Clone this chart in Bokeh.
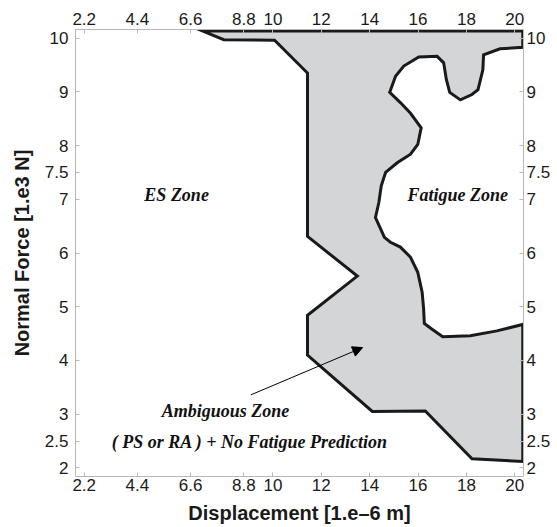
from bokeh.plotting import figure
from bokeh.models import (Range1d, LinearAxis, FixedTicker, CustomJSTickFormatter,
                          Label, Arrow, NormalHead)
from bokeh.embed import file_html
from bokeh.resources import INLINE

# ---- data ----
x_ticks = [2.2, 4.4, 6.6, 8.8, 10, 12, 14, 16, 18, 20]
y_ticks = [2, 2.5, 3, 4, 5, 6, 7, 7.5, 8, 9, 10]
x_label = "Displacement [1.e\u20136 m]"
y_label = "Normal Force [1.e3 N]"

zone_x = [7.10, 20.33, 20.33, 19.39, 18.71, 18.68, 18.48, 18.23, 17.75, 17.31,
          17.17, 17.06, 16.79, 16.03, 15.41, 15.07, 14.83, 15.27, 15.69, 16.13,
          15.99, 15.69, 15.14, 14.66, 14.48, 14.38, 14.24, 14.42, 14.61, 14.86,
          15.27, 15.69, 15.99, 16.17, 16.23, 16.26, 16.58, 17.02, 18.16, 19.26,
          20.33, 20.33, 18.23, 16.30, 14.11, 11.43, 11.43, 13.49, 11.43, 11.43,
          10.07, 7.97]
zone_y = [10.13, 10.13, 9.83, 9.80, 9.69, 9.41, 9.04, 8.95, 8.85, 8.99,
          9.23, 9.54, 9.66, 9.65, 9.48, 9.29, 8.99, 8.80, 8.60, 8.33,
          8.02, 7.84, 7.68, 7.50, 7.25, 6.94, 6.66, 6.48, 6.29, 6.20,
          6.11, 5.92, 5.64, 5.27, 4.97, 4.69, 4.58, 4.44, 4.46, 4.55,
          4.67, 2.12, 2.17, 3.06, 3.05, 4.10, 4.84, 5.57, 6.31, 9.35,
          9.96, 9.97]

zone_names = ["ES Zone", "Fatigue Zone", "Ambiguous Zone",
              "( PS or RA ) + No Fatigue Prediction"]
zone_label_x = [6.02, 17.64, 8.04, 9.05]
zone_label_y = [7.08, 7.08, 3.05, 2.49]

arrow_start = [9.09, 3.36]
arrow_end = [13.71, 4.24]

# ---- figure ----
p = figure(width=557, height=527,
           x_range=Range1d(1.84, 20.36), y_range=Range1d(1.84, 10.16),
           output_backend="svg", toolbar_location=None)
p.min_border_left = 75
p.min_border_right = 34
p.min_border_top = 29
p.min_border_bottom = 51
p.outline_line_color = None
p.xgrid.grid_line_color = None
p.ygrid.grid_line_color = None
p.background_fill_color = "white"
p.border_fill_color = "white"

p.add_layout(LinearAxis(), "above")
p.add_layout(LinearAxis(), "right")

fmt_code = "return String(Math.round(tick*100)/100);"

def style(ax, ticks, standoff):
    ax.ticker = FixedTicker(ticks=ticks, minor_ticks=[])
    ax.formatter = CustomJSTickFormatter(code=fmt_code)
    ax.major_tick_in = 4
    ax.major_tick_out = 0
    ax.minor_tick_line_color = None
    ax.axis_line_color = "#b8b8b8"
    ax.major_tick_line_color = "#b8b8b8"
    ax.major_label_text_font = "Liberation Sans"
    ax.major_label_text_font_size = "17px"
    ax.major_label_text_color = "#1a1a1a"
    ax.major_label_standoff = standoff

style(p.below[0], x_ticks, 2)
style(p.above[0], x_ticks, 5)
style(p.left[0], y_ticks, 7)
style(p.right[0], y_ticks, 3)

for ax, lab, so in ((p.below[0], x_label, 8), (p.left[0], y_label, 9)):
    ax.axis_label = lab
    ax.axis_label_text_font = "Liberation Sans"
    ax.axis_label_text_font_style = "bold"
    ax.axis_label_text_font_size = "20px"
    ax.axis_label_text_color = "#1a1a1a"
    ax.axis_label_standoff = so

p.patch(zone_x, zone_y, fill_color="#d4d5d7", line_color="#1a1a1a",
        line_width=3, line_join="miter")

p.add_layout(Arrow(end=NormalHead(size=10, fill_color="black", line_color="black",
                                  line_width=1),
                   x_start=arrow_start[0], y_start=arrow_start[1],
                   x_end=arrow_end[0], y_end=arrow_end[1],
                   line_color="black", line_width=1))

for name, lx, ly in zip(zone_names, zone_label_x, zone_label_y):
    p.add_layout(Label(x=lx, y=ly, text=name, text_font="Liberation Serif",
                       text_font_style="bold italic", text_font_size="18px",
                       text_color="#111111", text_align="center",
                       text_baseline="middle"))

open("out.html", "w").write(file_html(p, INLINE))
